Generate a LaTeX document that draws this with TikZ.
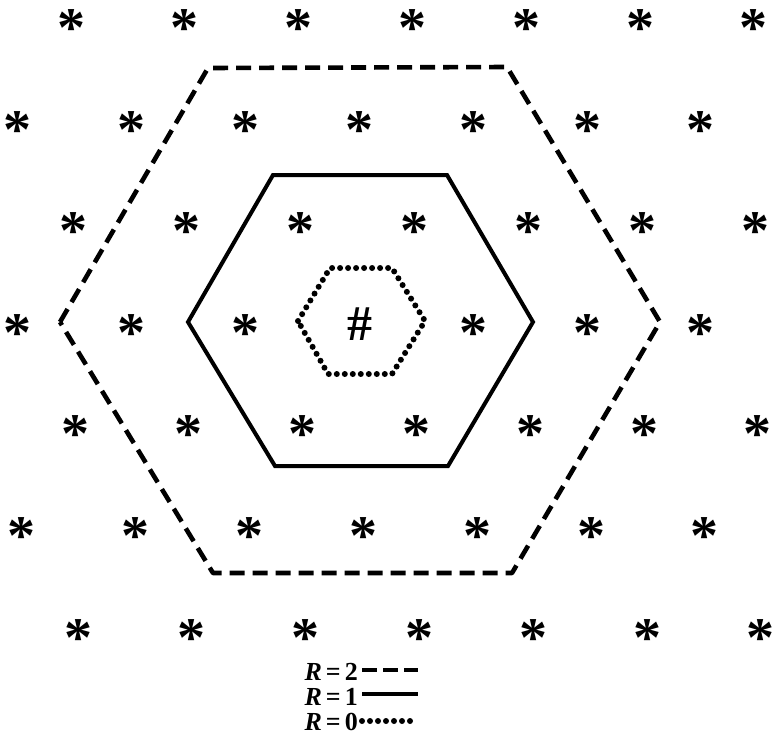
\documentclass[tikz,border=0pt]{standalone}
\usepackage{fontspec}
\setmainfont{Liberation Serif}
\begin{document}
\begin{tikzpicture}[x=1pt,y=-1pt,
  ast/.style={inner sep=0pt,font=\fontsize{56}{56}\selectfont\bfseries, yshift=-10pt},
  hexdash/.style={line width=4.6pt,dash pattern=on 15pt off 8pt,line join=round},
  hexsolid/.style={line width=4pt,line join=miter},
  hexdot/.style={line width=6pt,dash pattern=on 0pt off 8pt,line cap=round},
  legtext/.style={inner sep=0pt,anchor=east,font=\fontsize{26}{26}\selectfont\bfseries}]
\useasboundingbox (0,0) rectangle (775,740);
% lattice of asterisks
\foreach \r/\xs in {0/71,1/18,2/73,3/18,4/75,5/22,6/78}{
  \foreach \i in {0,...,6}{
    \ifnum\numexpr\r*10+\i\relax=33 \else
      \node[ast] (a\r\i) at (\xs+\i*113.8, 18+\r*101.6) {*};
    \fi
  }
}
\node[inner sep=0pt,font=\fontsize{50}{50}\selectfont\bfseries] (c) at (360,324) {\#};
% hexagons
\draw[hexdash] (60,322) -- (208,68) -- (507,67) -- (660,322) -- (512,573) -- (213,573) -- cycle;
\draw[hexsolid] (188,322) -- (273,175) -- (447,175) -- (533,322) -- (448,466) -- (275,466) -- cycle;
\draw[hexdot] (298,321) -- (330,268) -- (392,268) -- (425,321) -- (392,374) -- (328,374) -- cycle;
% legend
\node[legtext] (l2) at (358,672) {\textit{R}\hspace{4pt}=\hspace{4pt}2};
\node[legtext] (l1) at (358,697) {\textit{R}\hspace{4pt}=\hspace{4pt}1};
\node[legtext] (l0) at (358,722) {\textit{R}\hspace{4pt}=\hspace{4pt}0};
\coordinate (e2) at (418,670);
\coordinate (e1) at (418,694);
\coordinate (e0) at (413,721);
\draw[line width=4pt,dash pattern=on 15pt off 6pt] (362,670) -- (e2);
\draw[line width=4pt] (362,694) -- (e1);
\draw[hexdot] (362,721) -- (e0);
\end{tikzpicture}
\end{document}
